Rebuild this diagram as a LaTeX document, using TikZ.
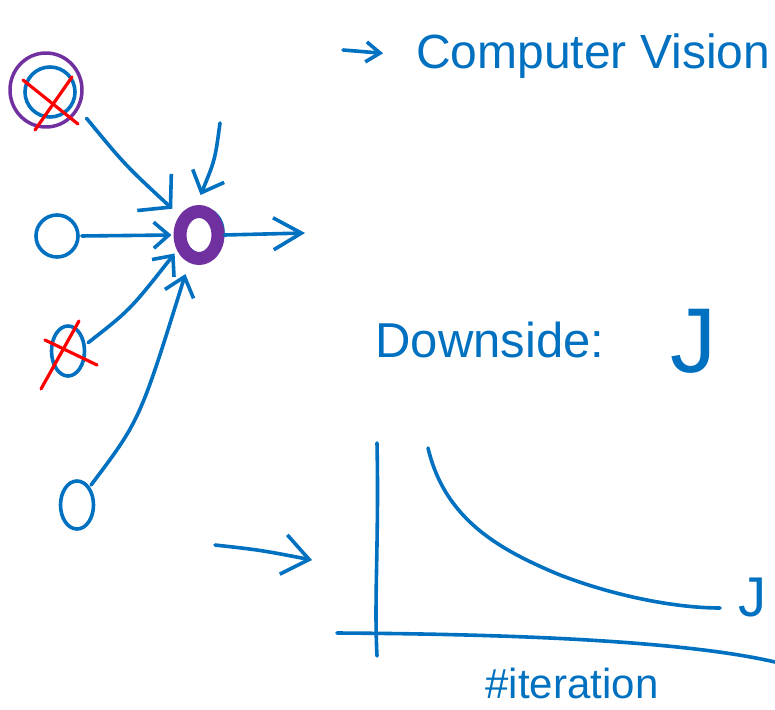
\documentclass[tikz,border=0pt]{standalone}
\usepackage{fontspec}
\setmainfont{Liberation Sans}
\usetikzlibrary{arrows.meta,shapes.geometric}
\definecolor{inkblue}{RGB}{0,112,192}
\definecolor{inkpurple}{RGB}{112,48,160}
\definecolor{inkred}{RGB}{255,0,0}
\begin{document}
\begin{tikzpicture}[x=1pt,y=-1pt,line cap=round,line join=round,
  ink/.style={draw=inkblue,line width=3.6pt},
  redx/.style={draw=inkred,line width=3.2pt},
  unit/.style={ellipse,draw=inkblue,line width=3.6pt,inner sep=0pt},
  barb/.style n args={2}{ink,-{Straight Barb[length=#1,width=#2]}},
  label/.style={text=inkblue,inner sep=0pt}]
\useasboundingbox[fill=white] (0,0) rectangle (775,709);

% input units
\node[ellipse,draw=inkpurple,line width=3.5pt,minimum width=72pt,minimum height=74pt,inner sep=0pt] (tl) at (46,90) {};
\node[unit,minimum width=50pt,minimum height=50pt] (tlin) at (50,92) {};
\draw[redx] (23,80) -- (78,124);
\draw[redx] (35,130) -- (72,77);

\node[unit,minimum width=42pt,minimum height=42pt] (l2) at (57,236) {};

\node[unit,minimum width=33pt,minimum height=50pt] (l3) at (68,351) {};
\draw[redx] (45,340) -- (97,365);
\draw[redx] (79,321) -- (41,389);

\node[unit,minimum width=33pt,minimum height=48pt] (l4) at (77,505) {};

% central unit
\node[unit,minimum width=40pt,minimum height=46pt] (cb) at (203,232) {};
\node[ellipse,draw=inkpurple,line width=13pt,minimum width=38pt,minimum height=47pt,inner sep=0pt] (c) at (199,235) {};

% connectors
\coordinate (top) at (220,123);
\coordinate (out) at (305,233);
\draw[barb={22pt}{50pt},shorten <=12pt,shorten >=10pt] (tl.-30) .. controls (125,165) .. (c.135);
\draw[barb={18pt}{34pt},shorten >=11pt] (top) .. controls (215,160) .. (c.95);
\draw[barb={15pt}{26pt},shorten <=2pt,shorten >=2pt] (l2.east) -- (c.west);
\draw[barb={28pt}{32pt}] (c.east) -- (out);
\draw[barb={16pt}{28pt},shorten <=3pt,shorten >=4pt] (l3.20) .. controls (130,310) .. (c.-145);
\draw[barb={18pt}{30pt},shorten <=2pt,shorten >=12pt] (l4.55) .. controls (140,420) .. (c.-110);

% texts
\node[label,font=\fontsize{48}{52}\selectfont,anchor=west] (cv) at (416,56) {Computer Vision};
\coordinate (cva) at (343,50);
\draw[barb={14pt}{20pt},shorten >=33pt] (cva) -- (cv.west);

\node[label,font=\fontsize{49}{54}\selectfont] (down) at (490,340) {Downside:};
\node[label,font=\fontsize{92}{96}\selectfont] (jtop) at (693,341) {J};

% lower arrow
\coordinate (b1) at (215,545);
\coordinate (b2) at (312,560);
\draw[barb={26pt}{40pt}] (b1) .. controls (260,550) .. (b2);

% plot
\coordinate (ytop) at (377,443);
\coordinate (ybot) at (377,656);
\coordinate (xl) at (337,633);
\coordinate (xr) at (775,662);
\draw[ink] (ytop) .. controls (379,540) and (374,600) .. (ybot);
\draw[ink] (xl) .. controls (500,634) and (680,640) .. (xr);
\draw[ink] (428,448) .. controls (445,520) and (500,550) .. (560,575) .. controls (620,598) and (680,608) .. (720,608);
\node[label,font=\fontsize{56}{60}\selectfont] (jplot) at (752,597) {J};
\node[label,font=\fontsize{42}{46}\selectfont] (iter) at (572,683) {\#iteration};
\end{tikzpicture}
\end{document}
